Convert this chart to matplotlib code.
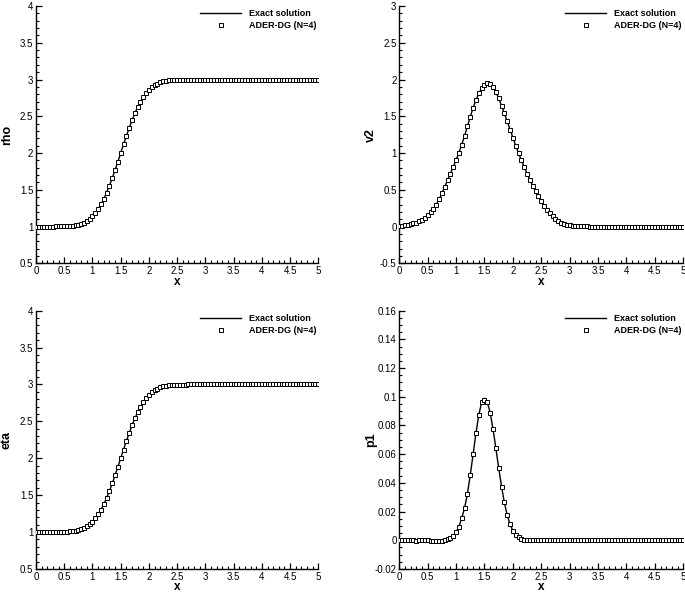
import matplotlib
matplotlib.use("Agg")
import matplotlib.pyplot as plt
from matplotlib.ticker import MultipleLocator, FormatStrFormatter
import numpy as np

plt.rcParams['font.family'] = ['Liberation Sans', 'DejaVu Sans']

# sample nodes (x = 0 ... 5, every 0.05)
x_nodes = np.linspace(0.0, 5.0, 101)

rho = [1.000, 1.000, 1.000, 1.000, 1.000, 1.000, 1.000, 1.001, 1.001, 1.002,
       1.003, 1.005, 1.008, 1.012, 1.018, 1.026, 1.039, 1.055, 1.077, 1.104,
       1.141, 1.184, 1.238, 1.302, 1.377, 1.461, 1.556, 1.659, 1.768, 1.883,
       2.000, 2.117, 2.232, 2.341, 2.444, 2.539, 2.623, 2.698, 2.762, 2.816,
       2.859, 2.896, 2.923, 2.945, 2.962, 2.974, 2.982, 2.988, 2.992, 2.995,
       2.997, 2.998, 2.999, 2.999, 3.000, 3.000, 3.000, 3.000, 3.000, 3.000,
       3.000, 3.000, 3.000, 3.000, 3.000, 3.000, 3.000, 3.000, 3.000, 3.000,
       3.000, 3.000, 3.000, 3.000, 3.000, 3.000, 3.000, 3.000, 3.000, 3.000,
       3.000, 3.000, 3.000, 3.000, 3.000, 3.000, 3.000, 3.000, 3.000, 3.000,
       3.000, 3.000, 3.000, 3.000, 3.000, 3.000, 3.000, 3.000, 3.000, 3.000,
       3.000]

v2 = [0.010, 0.013, 0.018, 0.024, 0.032, 0.042, 0.055, 0.072, 0.093, 0.120,
      0.152, 0.192, 0.240, 0.300, 0.370, 0.450, 0.540, 0.630, 0.720, 0.812,
      0.905, 1.005, 1.115, 1.235, 1.365, 1.495, 1.615, 1.720, 1.810, 1.880,
      1.930, 1.955, 1.940, 1.900, 1.830, 1.745, 1.645, 1.540, 1.430, 1.320,
      1.210, 1.100, 1.000, 0.900, 0.810, 0.720, 0.635, 0.555, 0.480, 0.410,
      0.345, 0.285, 0.230, 0.180, 0.140, 0.105, 0.077, 0.055, 0.039, 0.027,
      0.018, 0.012, 0.008, 0.005, 0.003, 0.002, 0.001, 0.000, 0.000, 0.000,
      0.000, 0.000, 0.000, 0.000, 0.000, 0.000, 0.000, 0.000, 0.000, 0.000,
      0.000, 0.000, 0.000, 0.000, 0.000, 0.000, 0.000, 0.000, 0.000, 0.000,
      0.000, 0.000, 0.000, 0.000, 0.000, 0.000, 0.000, 0.000, 0.000, 0.000,
      0.000]

eta = [1.000, 1.000, 1.000, 1.000, 1.000, 1.000, 1.000, 1.001, 1.001, 1.002,
       1.003, 1.005, 1.008, 1.012, 1.018, 1.026, 1.039, 1.055, 1.077, 1.104,
       1.141, 1.184, 1.238, 1.302, 1.377, 1.461, 1.556, 1.659, 1.768, 1.883,
       2.000, 2.117, 2.232, 2.341, 2.444, 2.539, 2.623, 2.698, 2.762, 2.816,
       2.859, 2.896, 2.923, 2.945, 2.962, 2.974, 2.982, 2.988, 2.992, 2.995,
       2.997, 2.998, 2.999, 2.999, 3.000, 3.000, 3.000, 3.000, 3.000, 3.000,
       3.000, 3.000, 3.000, 3.000, 3.000, 3.000, 3.000, 3.000, 3.000, 3.000,
       3.000, 3.000, 3.000, 3.000, 3.000, 3.000, 3.000, 3.000, 3.000, 3.000,
       3.000, 3.000, 3.000, 3.000, 3.000, 3.000, 3.000, 3.000, 3.000, 3.000,
       3.000, 3.000, 3.000, 3.000, 3.000, 3.000, 3.000, 3.000, 3.000, 3.000,
       3.000]

p1_exact = [0.0, 0.0, 0.0, 0.0, 0.0, 0.0, 0.0, 0.0, 0.0, 0.0,
            0.0, 0.0, 0.0, 0.0, 0.0, 0.0, 0.0003, 0.0007, 0.0015, 0.0030,
            0.0055, 0.0095, 0.0155, 0.0225, 0.0325, 0.0455, 0.0600, 0.0747, 0.0874, 0.0960,
            0.0990, 0.0964, 0.0889, 0.0776, 0.0642, 0.0504, 0.0374, 0.0263, 0.0175, 0.0111,
            0.0066, 0.0038, 0.0020, 0.0010, 0.0005, 0.0002, 0.0001, 0.0, 0.0, 0.0,
            0.0, 0.0, 0.0, 0.0, 0.0, 0.0, 0.0, 0.0, 0.0, 0.0,
            0.0, 0.0, 0.0, 0.0, 0.0, 0.0, 0.0, 0.0, 0.0, 0.0,
            0.0, 0.0, 0.0, 0.0, 0.0, 0.0, 0.0, 0.0, 0.0, 0.0,
            0.0, 0.0, 0.0, 0.0, 0.0, 0.0, 0.0, 0.0, 0.0, 0.0,
            0.0, 0.0, 0.0, 0.0, 0.0, 0.0, 0.0, 0.0, 0.0, 0.0,
            0.0]

p1_dg = [0.0, 0.0, 0.0, 0.0, 0.0, 0.0, -0.0002, 0.0, 0.0, 0.0,
         0.0, -0.0004, -0.0007, -0.0008, -0.0005, -0.0002, 0.0002, 0.0007, 0.0015, 0.0030,
         0.0055, 0.0095, 0.0155, 0.0225, 0.0325, 0.0455, 0.0600, 0.0747, 0.0874, 0.0960,
         0.0975, 0.0964, 0.0889, 0.0776, 0.0642, 0.0504, 0.0374, 0.0263, 0.0175, 0.0111,
         0.0066, 0.0038, 0.0020, 0.0010, 0.0005, 0.0002, 0.0001, 0.0, 0.0, 0.0,
         0.0, 0.0, 0.0, 0.0, 0.0, 0.0, 0.0, 0.0, 0.0, 0.0,
         0.0, 0.0, 0.0, 0.0, 0.0, 0.0, 0.0, 0.0, 0.0, 0.0,
         0.0, 0.0, 0.0, 0.0, 0.0, 0.0, 0.0, 0.0, 0.0, 0.0,
         0.0, 0.0, 0.0, 0.0, 0.0, 0.0, 0.0, 0.0, 0.0, 0.0,
         0.0, 0.0, 0.0, 0.0, 0.0, 0.0, 0.0, 0.0, 0.0, 0.0,
         0.0]

# (label, exact, numerical, ylim, major, minor, position, ylabel x)
panels = [
    ('rho', rho, rho, (0.5, 4.0), 0.5, 0.1, [0.0526, 0.5552, 0.4121, 0.4347], -0.082),
    ('v2', v2, v2, (-0.5, 3.0), 0.5, 0.1, [0.5829, 0.5552, 0.4146, 0.4347], -0.078),
    ('eta', eta, eta, (0.5, 4.0), 0.5, 0.1, [0.0526, 0.0390, 0.4121, 0.4362], -0.082),
    ('p1', p1_exact, p1_dg, (-0.02, 0.16), 0.02, 0.005, [0.5829, 0.0390, 0.4146, 0.4362], -0.078),
]

fig = plt.figure(figsize=(6.85, 5.92), dpi=100)

for name, exact, num, ylim, major, minor, pos, lab_x in panels:
    ax = fig.add_axes(pos)
    ax.plot(x_nodes, exact, color='black', linewidth=1.0, label='Exact solution', zorder=2)
    ax.plot(x_nodes, num, linestyle='none', marker='s', markersize=2.6,
            markerfacecolor='white', markeredgecolor='black', markeredgewidth=0.7,
            label='ADER-DG (N=4)', zorder=3)

    ax.set_xlim(0, 5)
    ax.set_ylim(*ylim)
    ax.xaxis.set_major_locator(MultipleLocator(0.5))
    ax.xaxis.set_minor_locator(MultipleLocator(0.1))
    ax.yaxis.set_major_locator(MultipleLocator(major))
    ax.yaxis.set_minor_locator(MultipleLocator(minor))
    ax.xaxis.set_major_formatter(FormatStrFormatter('%g'))
    ax.yaxis.set_major_formatter(FormatStrFormatter('%g'))

    for s in ['top', 'right']:
        ax.spines[s].set_visible(False)
    for s in ['left', 'bottom']:
        ax.spines[s].set_linewidth(1.0)
    ax.tick_params(which='major', direction='in', length=4.5, width=0.9, labelsize=7, pad=2)
    ax.tick_params(which='minor', direction='in', length=2.5, width=0.8)

    ax.set_xlabel('x', fontsize=8.5, fontweight='bold', labelpad=-0.3)
    ax.set_ylabel(name, fontsize=9, fontweight='bold')
    ax.yaxis.set_label_coords(lab_x, 0.5)

    ax.legend(loc='upper right', bbox_to_anchor=(1.0, 0.995), frameon=False,
              prop={'size': 6.5, 'weight': 'bold'}, handlelength=4.5,
              handletextpad=0.9, labelspacing=0.35, borderaxespad=0.0, borderpad=0.2)

fig.savefig('out.png', dpi=100)
